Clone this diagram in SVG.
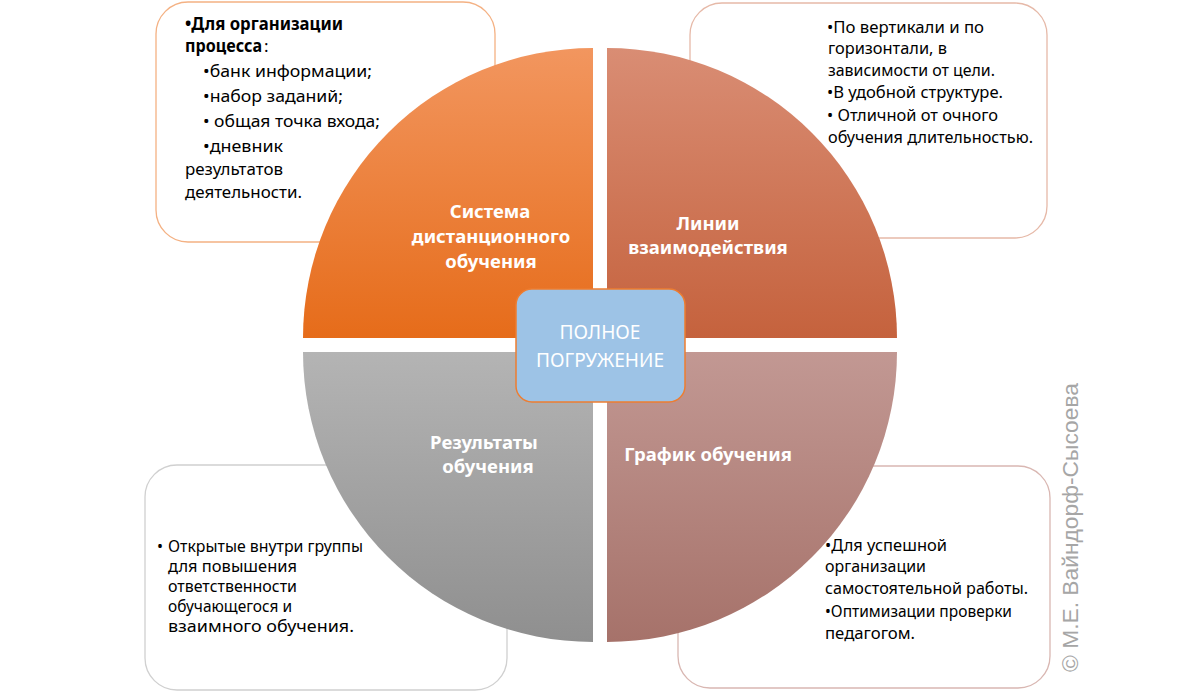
<svg xmlns="http://www.w3.org/2000/svg" width="1200" height="692" viewBox="0 0 1200 692">
<defs>
<linearGradient id="gTL" x1="0" y1="0" x2="0" y2="1"><stop offset="0" stop-color="#F2965F"/><stop offset="1" stop-color="#E66C1A"/></linearGradient>
<linearGradient id="gTR" x1="0" y1="0" x2="0" y2="1"><stop offset="0" stop-color="#D98D74"/><stop offset="1" stop-color="#C5623D"/></linearGradient>
<linearGradient id="gBL" x1="0" y1="0" x2="0" y2="1"><stop offset="0" stop-color="#B4B4B4"/><stop offset="1" stop-color="#8F8F8F"/></linearGradient>
<linearGradient id="gBR" x1="0" y1="0" x2="0" y2="1"><stop offset="0" stop-color="#C29893"/><stop offset="1" stop-color="#A6726A"/></linearGradient>
<style>
.box{fill:#FFFFFF;stroke-width:1.3}
.t{font-family:"Noto Sans","Open Sans",sans-serif;font-size:17px;fill:#000000}
.s{font-size:16px}
.b{font-weight:bold}
.q{font-family:"Noto Sans","Open Sans",sans-serif;font-size:18.5px;font-weight:bold;fill:#FFFFFF;text-anchor:middle}
.c{font-family:"Noto Sans","Open Sans",sans-serif;font-size:19px;fill:#FFFFFF;text-anchor:middle}
.w{font-family:"Liberation Sans",Arial,sans-serif;font-size:22px;fill:#A6A6A6}
</style>
</defs>
<rect width="1200" height="692" fill="#FFFFFF"/>

<g id="box-top-left">
<rect class="box" x="156" y="2" width="339" height="240" rx="32" stroke="#F4B183"/>
<text class="t b" x="185" y="30" textLength="158" lengthAdjust="spacingAndGlyphs">•Для организации</text>
<text class="t b" x="185" y="52" textLength="77" lengthAdjust="spacingAndGlyphs">процесса</text>
<text class="t" x="264" y="52">:</text>
<text class="t" x="203" y="77" textLength="169" lengthAdjust="spacingAndGlyphs">•банк информации;</text>
<text class="t" x="203" y="102" textLength="140" lengthAdjust="spacingAndGlyphs">•набор заданий;</text>
<text class="t" x="203" y="127" textLength="177" lengthAdjust="spacingAndGlyphs">• общая точка входа;</text>
<text class="t" x="203" y="152" textLength="80" lengthAdjust="spacingAndGlyphs">•дневник</text>
<text class="t" x="185" y="175" textLength="98" lengthAdjust="spacingAndGlyphs">результатов</text>
<text class="t" x="185" y="198" textLength="117" lengthAdjust="spacingAndGlyphs">деятельности.</text>
</g>

<g id="box-top-right">
<rect class="box" x="690" y="3" width="357" height="235" rx="32" stroke="#E6B9A8"/>
<text class="t" x="827" y="33" textLength="157" lengthAdjust="spacingAndGlyphs">•По вертикали и по</text>
<text class="t" x="828" y="54" textLength="119" lengthAdjust="spacingAndGlyphs">горизонтали, в</text>
<text class="t" x="828" y="76" textLength="167" lengthAdjust="spacingAndGlyphs">зависимости от цели.</text>
<text class="t" x="827" y="98" textLength="176" lengthAdjust="spacingAndGlyphs">•В удобной структуре.</text>
<text class="t" x="827" y="121" textLength="171" lengthAdjust="spacingAndGlyphs">• Отличной от очного</text>
<text class="t" x="828" y="143" textLength="205" lengthAdjust="spacingAndGlyphs">обучения длительностью.</text>
</g>

<g id="box-bottom-left">
<rect class="box" x="145" y="465" width="362" height="225" rx="32" stroke="#D0D0D0"/>
<text class="t s" x="157" y="552">•</text>
<text class="t s" x="168" y="552" textLength="195" lengthAdjust="spacingAndGlyphs">Открытые внутри группы</text>
<text class="t s" x="168" y="572" textLength="129" lengthAdjust="spacingAndGlyphs">для повышения</text>
<text class="t s" x="168" y="592" textLength="129" lengthAdjust="spacingAndGlyphs">ответственности</text>
<text class="t s" x="168" y="612" textLength="124" lengthAdjust="spacingAndGlyphs">обучающегося и</text>
<text class="t s" x="168" y="632" textLength="186" lengthAdjust="spacingAndGlyphs">взаимного обучения.</text>
</g>

<g id="box-bottom-right">
<rect class="box" x="678" y="466" width="372" height="222" rx="32" stroke="#D9B7B2"/>
<text class="t" x="825" y="551" textLength="122" lengthAdjust="spacingAndGlyphs">•Для успешной</text>
<text class="t" x="825" y="572" textLength="101" lengthAdjust="spacingAndGlyphs">организации</text>
<text class="t" x="825" y="594" textLength="203" lengthAdjust="spacingAndGlyphs">самостоятельной работы.</text>
<text class="t" x="825" y="617" textLength="187" lengthAdjust="spacingAndGlyphs">•Оптимизации проверки</text>
<text class="t" x="825" y="639" textLength="90" lengthAdjust="spacingAndGlyphs">педагогом.</text>
</g>

<g id="quadrant-top-left">
<path d="M593,338 L303,338 A290,290 0 0 1 593,48 Z" fill="url(#gTL)"/>
<text class="q" x="490" y="218">Система</text>
<text class="q" x="491" y="243">дистанционного</text>
<text class="q" x="491" y="268">обучения</text>
</g>

<g id="quadrant-top-right">
<path d="M607,338 L607,48 A290,290 0 0 1 897,338 Z" fill="url(#gTR)"/>
<text class="q" x="708" y="230">Линии</text>
<text class="q" x="708" y="254">взаимодействия</text>
</g>

<g id="quadrant-bottom-left">
<path d="M593,352 L593,642 A290,290 0 0 1 303,352 Z" fill="url(#gBL)"/>
<text class="q" x="484" y="449">Результаты</text>
<text class="q" x="488" y="473">обучения</text>
</g>

<g id="quadrant-bottom-right">
<path d="M607,352 L897,352 A290,290 0 0 1 607,642 Z" fill="url(#gBR)"/>
<text class="q" x="708" y="461">График обучения</text>
</g>

<g id="center">
<rect x="516" y="289" width="169" height="113" rx="16" fill="#9DC3E6" stroke="#ED7D31" stroke-width="1.5"/>
<text class="c" x="600" y="339" textLength="81" lengthAdjust="spacingAndGlyphs">ПОЛНОЕ</text>
<text class="c" x="600" y="367" textLength="128" lengthAdjust="spacingAndGlyphs">ПОГРУЖЕНИЕ</text>
</g>

<g id="connectors"></g>

<g id="watermark">
<text class="w" transform="translate(1078,672) rotate(-90)" x="0" y="0" textLength="289" lengthAdjust="spacingAndGlyphs">© М.Е. Вайндорф-Сысоева</text>
</g>
</svg>
